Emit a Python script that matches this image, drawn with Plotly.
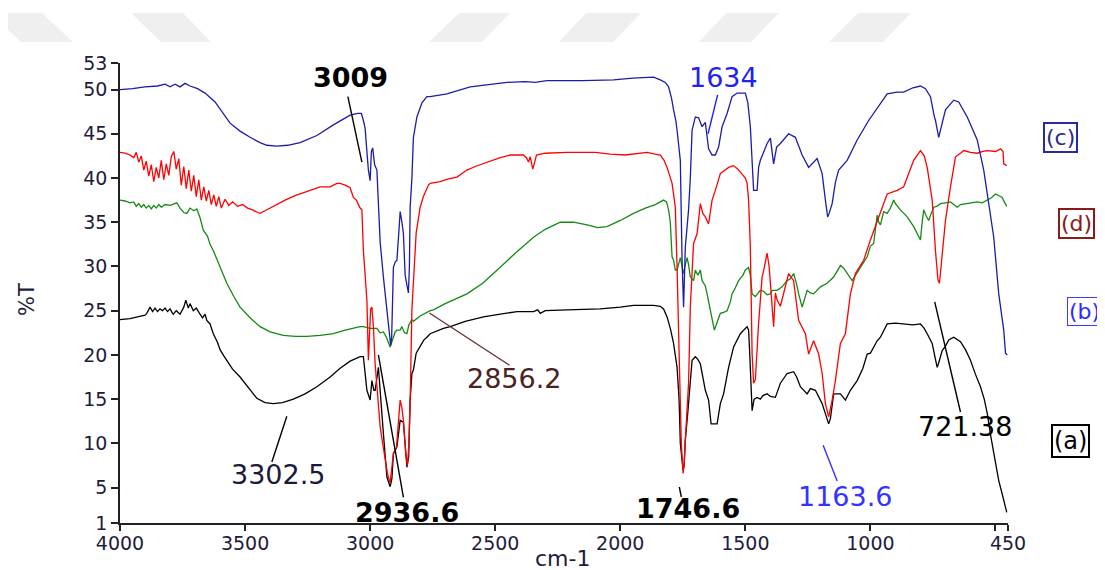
import plotly.graph_objects as go

# ---------------- data (wavenumber cm-1, %T) ----------------
wn_a = [4000,3960,3930,3900,3893,3885,3880,3870,3860,3850,3840,3830,3820,3810,3800,3790,3787,3775,3760,3745,3737,3727,3720,3707,3695,3680,3670,3660,3653,3640,3627,3610,3600,3585,3573,3550,3520,3490,3453,3420,3387,3350,3307,3260,3213,3160,3120,3080,3040,3027,3013,3000,2993,2985,2980,2967,2960,2947,2933,2920,2913,2907,2893,2880,2867,2860,2853,2846,2840,2833,2827,2816,2800,2785,2773,2760,2707,2680,2620,2547,2480,2413,2347,2330,2320,2300,2213,2080,2000,1947,1867,1840,1827,1813,1800,1787,1773,1765,1760,1749,1745,1740,1730,1723,1713,1700,1690,1680,1670,1660,1647,1637,1613,1600,1587,1567,1547,1520,1493,1487,1483,1473,1465,1453,1440,1430,1413,1400,1380,1360,1333,1307,1295,1280,1253,1240,1220,1200,1193,1176,1167,1160,1147,1120,1100,1080,1053,1030,1013,1000,973,960,933,900,867,830,800,785,773,753,740,733,728,713,700,687,667,640,620,600,580,560,545,533,520,507,497,487,477,467,460,455]
t_a = [24.0,24.1,24.3,24.5,24.7,25.1,25.4,24.9,25.3,24.9,25.2,25.0,25.3,24.9,25.2,24.7,24.6,25.0,24.6,25.4,26.2,25.3,25.8,25.0,25.3,24.6,24.2,24.6,23.9,23.5,22.4,21.4,20.6,19.9,19.4,18.4,17.5,16.4,15.1,14.6,14.5,14.6,15.0,15.6,16.4,17.5,18.5,19.3,19.8,19.8,16.0,14.9,17.1,16.0,16.0,18.6,15.6,11.1,6.2,5.1,6.0,8.8,9.6,12.6,12.4,9.5,7.3,8.5,14.9,17.9,18.3,20.2,20.9,21.7,22.0,22.4,23.0,23.2,23.8,24.3,24.6,24.9,24.9,25.1,24.7,25.0,25.1,25.2,25.4,25.6,25.6,25.5,25.2,24.3,23.0,21.3,18.6,15.0,10.0,7.0,7.4,10.4,13.5,16.4,19.4,19.8,19.5,19.0,17.5,16.0,14.9,12.2,12.2,14.5,15.6,18.6,20.9,22.4,23.2,22.8,20.5,13.7,15.0,15.2,15.0,15.4,15.6,15.3,15.2,16.8,17.9,18.1,17.5,16.4,15.6,16.2,16.0,15.0,14.5,13.0,12.2,12.8,15.6,15.6,14.9,16.0,17.1,18.5,20.1,20.2,21.6,22.0,23.5,23.6,23.5,23.4,23.5,23.0,22.4,21.3,19.5,18.6,19.0,20.5,21.0,21.7,22.0,21.5,20.6,19.4,17.8,16.4,15.0,13.4,11.0,8.8,7.3,5.8,4.7,3.6,2.6,2.2]

wn_b = [4000,3980,3960,3945,3935,3925,3915,3905,3895,3885,3875,3865,3855,3845,3835,3820,3800,3785,3773,3760,3745,3733,3720,3705,3693,3680,3667,3650,3640,3627,3600,3573,3545,3520,3480,3440,3400,3347,3300,3253,3200,3147,3100,3060,3040,3027,3000,2973,2960,2947,2935,2920,2912,2900,2893,2880,2873,2863,2853,2845,2833,2827,2800,2760,2747,2700,2613,2550,2480,2420,2347,2300,2240,2187,2133,2090,2053,2000,1947,1900,1860,1840,1827,1815,1807,1800,1793,1787,1780,1773,1767,1760,1753,1747,1740,1733,1727,1720,1707,1700,1690,1680,1673,1660,1653,1640,1633,1624,1615,1600,1587,1573,1560,1553,1540,1527,1510,1500,1487,1480,1473,1460,1440,1427,1413,1400,1393,1373,1353,1333,1320,1307,1295,1287,1273,1263,1253,1240,1227,1200,1173,1147,1133,1120,1107,1093,1073,1060,1047,1030,1013,1000,987,973,967,960,947,933,920,907,900,880,853,827,810,800,793,787,777,767,757,747,735,720,700,680,667,653,640,613,590,573,553,533,515,500,487,473,465,460,455]
t_b = [37.5,37.4,37.2,37.3,36.8,37.1,36.7,37.0,36.6,36.9,36.5,36.9,36.6,37.0,36.7,37.0,36.9,37.1,37.2,36.6,36.1,36.0,36.6,36.3,36.5,35.5,34.1,33.4,32.5,31.8,30.0,28.1,26.6,25.4,24.2,23.2,22.6,22.2,22.1,22.1,22.2,22.4,22.8,23.1,23.2,23.2,23.0,23.0,22.5,22.6,22.0,20.9,21.5,22.6,22.8,22.8,23.2,22.5,22.4,23.4,24.0,23.8,24.4,25.0,25.1,25.8,26.9,28.1,29.9,31.5,33.3,34.2,35.0,35.0,34.7,34.4,34.5,35.2,36.0,36.6,37.0,37.3,37.5,37.3,36.4,35.0,31.1,30.7,29.6,29.6,30.4,31.0,30.0,29.2,30.2,31.0,30.2,28.8,28.4,29.6,29.0,29.6,28.4,27.8,26.9,25.0,23.9,22.8,23.5,24.7,24.8,25.0,26.0,26.9,27.6,28.4,29.0,29.6,29.9,29.0,26.9,26.6,27.3,27.2,26.8,26.9,27.3,27.3,27.7,28.4,28.6,29.2,28.0,26.9,25.4,26.5,27.3,27.0,26.9,27.7,28.1,28.8,29.5,30.1,29.8,29.2,28.4,29.0,29.6,30.3,31.1,32.3,32.6,35.8,35.0,34.7,36.2,36.0,36.6,37.5,37.1,36.4,35.6,34.5,33.6,33.0,35.0,36.4,35.7,35.2,36.0,36.7,36.8,37.1,37.2,37.3,37.0,36.7,37.0,37.1,37.2,37.3,37.2,37.5,37.8,38.2,38.0,37.8,37.3,37.1,36.8]

wn_c = [4000,3950,3900,3850,3820,3800,3780,3760,3740,3720,3690,3660,3620,3580,3560,3520,3480,3440,3413,3373,3330,3280,3213,3147,3100,3080,3050,3035,3027,3020,3013,3007,3000,2995,2990,2982,2973,2965,2960,2947,2935,2927,2918,2914,2907,2900,2893,2885,2880,2873,2867,2860,2856,2847,2843,2840,2833,2827,2813,2793,2773,2760,2693,2667,2600,2453,2380,2340,2293,2150,2027,1950,1867,1840,1820,1807,1795,1787,1778,1773,1765,1760,1753,1747,1740,1732,1727,1720,1713,1700,1687,1673,1660,1647,1633,1620,1607,1593,1573,1553,1533,1500,1490,1480,1472,1467,1453,1447,1440,1413,1400,1393,1387,1375,1360,1327,1300,1273,1247,1213,1193,1180,1171,1165,1153,1140,1127,1093,1053,1007,960,933,893,867,830,800,780,760,745,740,727,715,700,667,647,613,573,547,533,507,487,467,460,453]
t_c = [50.0,50.1,50.3,50.4,50.6,50.3,50.6,50.3,50.7,50.4,50.1,49.6,48.6,47.0,46.2,45.3,44.6,44.0,43.7,43.6,43.7,44.0,44.8,46.0,46.8,47.1,47.3,47.3,46.5,45.6,43.0,40.9,39.7,43.0,43.4,41.5,40.9,36.0,32.8,28.8,25.5,23.6,21.1,22.0,29.9,30.5,30.7,34.0,36.2,35.0,33.7,29.0,28.4,27.0,30.0,36.7,40.0,44.6,46.9,48.5,49.2,49.2,49.5,49.7,50.3,50.8,50.9,50.8,51.0,51.0,51.1,51.3,51.4,51.1,50.8,50.3,49.0,47.7,46.5,45.4,43.5,42.0,30.7,25.4,32.2,34.5,36.4,40.0,45.4,46.9,46.8,45.8,46.3,43.3,42.6,42.6,43.5,45.8,47.3,49.2,49.6,49.6,48.5,45.8,41.0,38.6,38.6,41.2,42.0,43.9,44.5,42.8,41.6,43.5,43.9,45.0,44.6,42.6,41.2,42.2,40.5,37.5,35.6,36.0,37.1,39.5,40.9,42.0,44.3,46.5,48.4,49.5,49.7,49.7,50.2,50.4,50.1,49.2,47.0,46.5,44.6,46.0,47.7,48.8,48.6,46.9,44.3,40.9,38.2,33.3,26.9,22.8,20.2,20.0]

wn_d = [4000,3980,3960,3945,3935,3925,3915,3905,3895,3885,3875,3865,3855,3845,3835,3825,3815,3805,3795,3785,3775,3765,3755,3745,3735,3725,3715,3705,3695,3685,3675,3665,3655,3645,3635,3625,3615,3605,3595,3580,3565,3550,3530,3510,3490,3470,3450,3440,3420,3380,3340,3300,3250,3200,3160,3133,3120,3100,3080,3067,3055,3040,3033,3027,3020,3013,3007,3003,2998,2993,2987,2980,2973,2960,2950,2940,2930,2920,2913,2907,2895,2887,2880,2873,2867,2858,2851,2845,2840,2833,2825,2816,2800,2787,2767,2760,2720,2687,2653,2613,2580,2533,2480,2440,2387,2375,2367,2360,2350,2345,2335,2300,2213,2100,2040,1980,1930,1893,1860,1840,1825,1813,1793,1780,1773,1763,1756,1749,1745,1740,1733,1727,1720,1713,1707,1693,1680,1670,1660,1647,1640,1633,1620,1600,1567,1547,1530,1513,1500,1493,1487,1480,1473,1467,1460,1447,1440,1433,1427,1413,1405,1393,1387,1380,1373,1360,1347,1327,1307,1287,1260,1247,1227,1207,1193,1180,1167,1153,1140,1120,1100,1080,1060,1027,1000,973,933,893,867,847,827,800,785,773,763,753,740,730,724,713,700,680,660,640,627,600,573,550,533,500,480,470,467,455]
t_d = [42.9,42.8,42.6,42.3,42.9,41.8,42.5,40.9,41.9,40.2,41.5,39.6,41.2,40.0,42.0,39.8,41.6,40.3,42.4,43.0,41.0,42.2,39.2,41.3,38.8,40.9,38.5,40.3,37.9,39.8,37.5,39.0,37.4,38.6,37.0,38.1,36.8,37.9,36.6,37.6,36.9,37.3,36.8,37.0,36.6,36.4,36.1,36.0,36.3,36.9,37.5,38.0,38.5,39.0,39.0,39.4,39.4,39.2,38.9,37.8,37.5,36.6,36.4,31.8,29.0,26.2,19.4,22.4,25.2,25.4,23.2,19.0,16.4,11.9,10.0,8.1,6.5,5.5,7.0,8.9,9.5,12.0,14.9,14.0,12.6,9.0,7.5,10.0,14.9,25.1,30.0,33.8,36.7,37.9,39.2,39.4,39.6,39.9,40.1,40.9,41.3,41.8,42.3,42.6,42.6,42.3,41.8,42.4,41.0,41.5,42.6,42.8,42.9,42.9,42.7,42.6,42.8,42.9,42.7,42.6,42.0,41.2,39.4,36.7,29.9,19.4,10.0,6.6,7.5,10.4,14.0,16.8,25.4,30.0,32.6,33.7,37.1,36.0,35.6,34.8,36.0,37.5,38.6,40.5,41.2,41.4,41.0,40.5,40.0,39.4,37.5,32.2,20.1,16.8,17.2,23.6,26.9,28.8,29.5,31.5,30.0,24.7,23.2,27.0,26.2,25.5,26.9,29.2,28.4,23.9,22.4,20.1,21.6,20.1,17.9,14.5,13.0,14.9,17.1,21.3,22.4,26.9,29.2,30.7,33.0,35.2,38.2,38.6,39.0,40.5,42.0,43.1,42.5,41.2,39.5,37.5,31.8,28.5,28.1,31.5,35.2,39.0,42.4,42.8,43.1,42.9,42.8,43.0,43.1,43.0,43.3,43.0,41.6,41.4]

x_ticks = [4000, 3500, 3000, 2500, 2000, 1500, 1000, 500, 450]
x_tick_text = ["4000", "3500", "3000", "2500", "2000", "1500", "1000", "", "450"]
y_ticks = [1, 5, 10, 15, 20, 25, 30, 35, 40, 45, 50, 53]

# peak labels: text, text position (wn, %T), leader line start/end (wn, %T)
peak_text = ["3009", "1634", "2856.2", "3302.5", "2936.6", "1746.6", "1163.6", "721.38"]
peak_text_pos = [(3080, 51.33), (1588, 51.39), (2424, 17.36), (3368, 6.51),
                 (2852, 2.21), (1728, 2.66), (1100, 4.02), (620, 11.93)]
peak_line = [((3089, 49.2), (3033, 41.8)), ((1611, 49.4), (1649, 45.0)),
             ((2763, 24.74), (2443, 18.83)), ((3333, 13.06), (3393, 7.9)),
             ((2967, 20.0), (2867, 3.9)), ((1764, 5.07), (1756, 3.94)),
             ((1189, 9.78), (1133, 5.75)), ((743, 26.0), (640, 13.55))]
peak_color = ["#000000", "#2222ee", "#4a2222", "#1a1a3a", "#000000", "#000000", "#3333ff", "#000000"]
line_color = ["#000000", "#2222ee", "#6b3333", "#000000", "#000000", "#000000", "#3333ff", "#000000"]
peak_bold = [True, False, False, False, True, True, False, False]

series_colors = {"(a)": "#000000", "(b)": "#138a13", "(c)": "#1c1caa", "(d)": "#ff0000"}

# ---------------- figure ----------------
fig = go.Figure()
for wn, t, name in [(wn_a, t_a, "(a)"), (wn_b, t_b, "(b)"),
                    (wn_d, t_d, "(d)"), (wn_c, t_c, "(c)")]:
    fig.add_trace(go.Scatter(x=wn, y=t, mode="lines", name=name,
                             line=dict(color=series_colors[name], width=1.3),
                             showlegend=False))

# page body has an 8px margin; plot area on screen: x 120..1008, y 63..523
OFF = 8
W, H = 1105, 570
PX0, PX1, PY0, PY1 = 120, 1008, 63, 523
L, T = PX0 - OFF, PY0 - OFF
R, B = W - L - (PX1 - PX0), H - T - (PY1 - PY0)
PW, PH = PX1 - PX0, PY1 - PY0


def px2paper(px, py):
    return (px - PX0) / PW, (PY1 - py) / PH


shapes = []
# faint watermark bands at the top
bands = [[(-10, 13), (42, 13), (73, 42), (21, 42)],
         [(131, 13), (183, 13), (211, 42), (161, 42)],
         [(459, 13), (510, 13), (482, 42), (429, 42)],
         [(586, 13), (641, 13), (613, 42), (559, 42)],
         [(726, 13), (779, 13), (751, 42), (699, 42)],
         [(858, 13), (911, 13), (883, 42), (829, 42)]]
for poly in bands:
    pts = [px2paper(*p) for p in poly]
    path = "M " + " L ".join(f"{x:.4f},{y:.4f}" for x, y in pts) + " Z"
    shapes.append(dict(type="path", xref="paper", yref="paper", path=path,
                       fillcolor="#efefef", line=dict(width=0), layer="below"))

for (p0, p1), col in zip(peak_line, line_color):
    shapes.append(dict(type="line", xref="x", yref="y", x0=p0[0], y0=p0[1],
                       x1=p1[0], y1=p1[1], line=dict(color=col, width=1.4), layer="above"))

annotations = []
for txt, pos, col, bold in zip(peak_text, peak_text_pos, peak_color, peak_bold):
    annotations.append(dict(x=pos[0], y=pos[1], xref="x", yref="y",
                            text=f"<b>{txt}</b>" if bold else txt, showarrow=False,
                            font=dict(family="DejaVu Sans", size=27, color=col),
                            xanchor="center", yanchor="middle"))

boxes = [("(c)", 1060, 137, "#2a2a8a", "#2a2aa0", 2, 22),
         ("(d)", 1076, 223, "#8b1a1a", "#8b1a1a", 2, 22),
         ("(b)", 1084, 311, "#2b2bff", "#3b3bff", 1, 22),
         ("(a)", 1070, 441, "#000000", "#000000", 2, 24)]
for txt, bx, by, tc, bc, bw, fs in boxes:
    x, y = px2paper(bx, by)
    annotations.append(dict(x=x, y=y, xref="paper", yref="paper", text=txt,
                            showarrow=False, font=dict(family="DejaVu Sans", size=fs, color=tc),
                            bordercolor=bc, borderwidth=bw, borderpad=1,
                            xanchor="center", yanchor="middle"))

x, y = px2paper(27, 300)
annotations.append(dict(x=x, y=y, xref="paper", yref="paper", text="%T", textangle=-90,
                        showarrow=False, font=dict(family="DejaVu Sans", size=21, color="#1c1c3c"),
                        xanchor="center", yanchor="middle"))
x, y = px2paper(562, 544)
annotations.append(dict(x=x, y=y, xref="paper", yref="paper", text="cm-1",
                        showarrow=False, font=dict(family="DejaVu Sans", size=22, color="#1c1c3c"),
                        xanchor="center", yanchor="top"))

axis_font = dict(family="DejaVu Sans", size=19, color="#1c1c3c")
fig.update_layout(
    width=W, height=H,
    margin=dict(l=L, r=R, t=T, b=B, autoexpand=False),
    paper_bgcolor="white", plot_bgcolor="white",
    shapes=shapes, annotations=annotations,
    xaxis=dict(range=[4000, 450], tickvals=x_ticks, ticktext=x_tick_text,
               ticks="outside", ticklen=6, tickwidth=1.5, tickcolor="#222",
               showline=True, linecolor="#222", linewidth=1.5, ticklabelstandoff=-4,
               showgrid=False, zeroline=False, tickfont=axis_font, automargin=False),
    yaxis=dict(range=[1, 53], tickvals=y_ticks, ticks="outside", ticklen=7,
               tickwidth=1.5, tickcolor="#222", showline=True, linecolor="#222",
               linewidth=1.5, showgrid=False, zeroline=False, tickfont=axis_font,
               automargin=False),
)

fig.write_html("out.html")
